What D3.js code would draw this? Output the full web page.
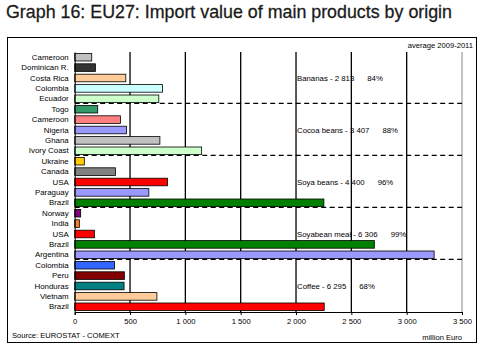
<!DOCTYPE html>
<html>
<head>
<meta charset="utf-8">
<script src="https://cdnjs.cloudflare.com/ajax/libs/d3/7.8.5/d3.min.js"></script>
<style>
  body { margin: 0; background: #fff; }
  svg { display: block; font-family: "Liberation Sans", Arial, sans-serif; }
</style>
</head>
<body>
<svg id="chart" width="482" height="352"></svg>
<script>
// data (million Euro, average 2009-2011)
const countries = [
  "Cameroon", "Dominican R.", "Costa Rica", "Colombia", "Ecuador",
  "Togo", "Cameroon", "Nigeria", "Ghana", "Ivory Coast",
  "Ukraine", "Canada", "USA", "Paraguay", "Brazil",
  "Norway", "India", "USA", "Brazil", "Argentina",
  "Colombia", "Peru", "Honduras", "Vietnam", "Brazil"
];
const values = [
  154, 187, 462, 794, 760,
  208, 413, 468, 770, 1147,
  87, 368, 839, 670, 2252,
  54, 42, 178, 2708, 3248,
  359, 449, 446, 743, 2255
];
const barColors = [
  "#c0c0c0", "#333333", "#ffcc99", "#ccffff", "#ccffcc",
  "#339966", "#ff8080", "#9999ff", "#c0c0c0", "#ccffcc",
  "#ffcc00", "#808080", "#ff0000", "#9999ff", "#008000",
  "#800080", "#ff7f27", "#ff0000", "#008000", "#9999ff",
  "#3366ff", "#800000", "#008080", "#ffcc99", "#ff0000"
];
const groupSizes = [5, 5, 5, 5, 5];
const groupLabels = ["Bananas - 2 813", "Cocoa beans - 3 407", "Soya beans - 4 400", "Soyabean meal - 6 306", "Coffee - 6 295"];
const groupShares = ["84%", "88%", "96%", "99%", "68%"];
const xTicks = [0, 500, 1000, 1500, 2000, 2500, 3000, 3500];

const svg = d3.select("#chart");

const plotLeft = 74.7, plotRight = 462, plotTop = 52, plotBottom = 312;

const x = d3.scaleLinear().domain([0, 3500]).range([plotLeft, plotRight]);
const y = d3.scaleBand()
  .domain(d3.range(countries.length))
  .range([plotTop, plotBottom])
  .paddingInner(0.27)
  .paddingOuter(0.135);

const fmt = d3.formatLocale({ decimal: ",", thousands: " ", grouping: [3], currency: ["", ""] }).format(",");

// title
svg.append("text")
  .attr("x", 6).attr("y", 18)
  .attr("font-size", 19)
  .attr("font-family", "'Liberation Sans Narrow', 'Liberation Sans', sans-serif")
  .attr("textLength", 446)
  .attr("lengthAdjust", "spacingAndGlyphs")
  .attr("fill", "#1a1a1a")
  .attr("stroke", "#1a1a1a")
  .attr("stroke-width", 0.3)
  .text("Graph 16: EU27: Import value of main products by origin");

// outer frame
svg.append("rect")
  .attr("x", 7.5).attr("y", 37.5)
  .attr("width", 469).attr("height", 305)
  .attr("fill", "none").attr("stroke", "#000").attr("stroke-width", 1);

// gridlines
svg.append("g").selectAll("line")
  .data(xTicks.filter(d => d > 0))
  .enter().append("line")
  .attr("x1", d => x(d)).attr("x2", d => x(d))
  .attr("y1", plotTop).attr("y2", plotBottom)
  .attr("stroke", d => d === 3500 ? "#888" : "#000")
  .attr("stroke-width", d => d === 3500 ? 1 : 1.3);

// bars
svg.append("g").selectAll("rect")
  .data(values)
  .enter().append("rect")
  .attr("x", x(0))
  .attr("y", (d, i) => y(i))
  .attr("width", d => x(d) - x(0))
  .attr("height", y.bandwidth())
  .attr("fill", (d, i) => barColors[i])
  .attr("stroke", "#000")
  .attr("stroke-width", 0.8);

// dashed separators between product groups
const ends = Array.from(d3.cumsum(groupSizes)).slice(0, -1);
const step = y.step();
svg.append("g").selectAll("line")
  .data(ends)
  .enter().append("line")
  .attr("x1", x(0)).attr("x2", plotRight)
  .attr("y1", d => y(d) - step * 0.2).attr("y2", d => y(d) - step * 0.2)
  .attr("stroke", "#000")
  .attr("stroke-width", 1.2)
  .attr("stroke-dasharray", "5,3.5");

// axes
const xAxis = d3.axisBottom(x).tickValues(xTicks).tickFormat(fmt).tickSize(3).tickPadding(4);
const gx = svg.append("g").attr("transform", `translate(0,${plotBottom})`).call(xAxis);
gx.select(".domain").attr("stroke", "#000");
gx.selectAll(".tick line").attr("stroke", "#000");
gx.selectAll("text").attr("font-size", 7.6).attr("fill", "#000").attr("font-family", "'Liberation Sans', Arial, sans-serif");

const yAxis = d3.axisLeft(y).tickFormat(i => countries[i]).tickSize(0).tickPadding(6);
const gy = svg.append("g").attr("transform", `translate(${plotLeft},0)`).call(yAxis);
gy.select(".domain").attr("stroke", "#000");
gy.selectAll("text").attr("font-size", 7.9).attr("fill", "#000").attr("font-family", "'Liberation Sans', Arial, sans-serif");

// group annotations
const starts = [0].concat(ends);
const ann = svg.append("g").attr("font-size", 7.8).attr("fill", "#000");
groupLabels.forEach((lab, i) => {
  const first = starts[i], last = starts[i] + groupSizes[i] - 1;
  const cy = (y(first) + y(last) + y.bandwidth()) / 2;
  const t = ann.append("text").attr("x", 297).attr("y", cy).attr("dy", "0.35em").text(lab);
  const w = t.node().getComputedTextLength();
  ann.append("text").attr("x", 297 + w + 13).attr("y", cy).attr("dy", "0.35em").text(groupShares[i]);
});

svg.append("text")
  .attr("x", 473).attr("y", 45).attr("dy", "0.35em")
  .attr("text-anchor", "end").attr("font-size", 7.6)
  .text("average 2009-2011");

svg.append("text")
  .attr("x", 12).attr("y", 335).attr("dy", "0.35em")
  .attr("font-size", 7.6)
  .text("Source: EUROSTAT - COMEXT");

svg.append("text")
  .attr("x", 462).attr("y", 337).attr("dy", "0.35em")
  .attr("text-anchor", "end").attr("font-size", 7.6)
  .text("million Euro");
</script>
</body>
</html>
